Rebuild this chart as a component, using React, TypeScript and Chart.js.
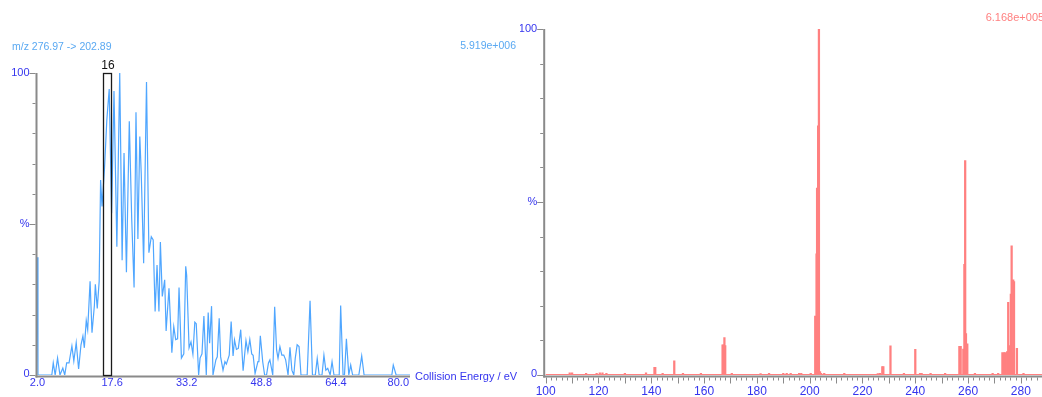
import React, { useEffect, useRef } from "react";
import { Chart, registerables } from "chart.js";

Chart.register(...registerables);

// ---------- Left panel: collision-energy profile ----------
const ceEnergies = [
  2.0, 2.2, 5.1, 5.4, 5.8, 6.3, 6.8, 7.4, 7.8, 8.2,
  8.7, 9.3, 9.7, 10.2, 10.7, 11.2, 11.6, 11.9, 12.3, 12.6,
  13.1, 13.5, 14.0, 14.2, 14.6, 15.0, 15.3, 15.6, 16.1, 16.6,
  17.1, 17.6, 18.1, 18.7, 19.3, 19.8, 20.2, 20.7, 21.3, 21.8,
  22.3, 22.7, 23.1, 23.5, 23.8, 24.3, 24.9, 25.4, 25.9, 26.3,
  26.7, 27.1, 27.5, 27.8, 28.2, 28.7, 29.0, 29.6, 30.2, 30.6,
  31.0, 31.4, 31.7, 32.2, 32.7, 33.1, 33.3, 33.8, 34.2, 34.6,
  35.0, 35.3, 35.8, 36.1, 36.5, 36.9, 37.4, 37.8, 38.1, 38.5,
  38.8, 39.4, 39.7, 40.1, 40.4, 40.9, 41.3, 41.6, 42.2, 42.6,
  43.0, 43.3, 43.7, 44.1, 44.6, 45.1, 45.7, 46.1, 46.5, 46.9,
  47.2, 47.6, 48.2, 48.4, 48.7, 49.2, 49.6, 50.0, 50.4, 50.7,
  51.3, 51.7, 52.1, 52.4, 52.8, 53.2, 53.6, 54.0, 54.5, 54.9,
  55.3, 55.7, 56.0, 56.4, 56.8, 57.2, 58.5, 59.1, 59.6, 60.2,
  60.6, 61.0, 61.6, 62.0, 62.4, 62.8, 63.3, 63.7, 64.1, 65.2,
  65.5, 66.0, 66.3, 66.7, 67.2, 67.6, 68.0, 69.3, 69.9, 70.4,
  76.2, 76.5, 77.1, 80.0,
];
const ceIntensity = [
  39, 0, 0, 4, 0, 5.6, 0, 2.3, 0, 4,
  4, 9.6, 4.6, 10.7, 2, 10, 12.9, 9, 18, 15,
  31, 14, 23, 30, 22, 31, 64.6, 55.8, 68, 84.4,
  94.7, 53.6, 94, 42.5, 100, 38, 73.5, 34, 84, 52,
  29, 87, 45, 79, 66.6, 37, 97, 40.5, 45.8, 44.7,
  21, 36.4, 21, 44, 26, 31.5, 14.6, 28.7, 7.4, 16,
  11.7, 12, 29, 5.6, 7, 36, 33, 9, 11, 6.9,
  17.5, 17, 0, 5.6, 7, 19.5, 0, 20.7, 10.5, 22.8,
  0, 5, 6, 18.8, 6, 1.6, 4.4, 3.6, 6.6, 17.7,
  6.3, 11.6, 8.5, 8.8, 15, 1.4, 11.4, 7.7, 11.8, 7,
  6.5, 0.5, 4.4, 4.4, 13, 4.4, 0, 0, 4, 5,
  0, 22.6, 8.3, 5.5, 9.4, 6.6, 6.6, 5, 0, 9.2,
  1.6, 0, 5.5, 10, 9.4, 0, 0, 24.6, 0, 0,
  5.5, 0, 0, 6.6, 1.6, 2.2, 0, 4.4, 0, 0,
  23, 0, 0, 12, 0, 3.3, 0, 0, 6.3, 0,
  0, 3.3, 0, 0,
];
const ceTickValues = [2.0, 17.6, 33.2, 48.8, 64.4, 80.0];
const ceTickLabels = ["2.0", "17.6", "33.2", "48.8", "64.4", "80.0"];
const ceAxisTitle = "Collision Energy / eV";
const ceHeader = "m/z 276.97 -> 202.89";
const ceMaxLabel = "5.919e+006";
const highlightRange = [15.9, 17.6];
const highlightLabel = "16";

// ---------- Right panel: product-ion spectrum ----------
const specMz = [
  109.1, 110.0, 115.3, 119.3, 120.5, 121.5, 123.0, 130.0, 138.0, 141.2,
  141.5, 144.3, 148.7, 152.0, 158.8, 167.0, 167.4, 167.7, 168.0, 170.5,
  181.4, 184.6, 190.0, 191.3, 192.8, 196.0, 196.8, 200.4, 202.1, 202.6,
  202.8, 203.2, 203.5, 203.9, 204.3, 205.5, 213.1, 225.8, 226.6, 227.5,
  227.9, 230.6, 235.7, 240.0, 241.8, 242.4, 245.8, 251.3, 256.7, 257.2,
  258.2, 258.6, 258.9, 259.2, 259.7, 262.6, 269.3, 271.4, 273.0, 273.6,
  274.1, 274.8, 275.2, 275.8, 276.2, 276.5, 276.9, 277.1, 277.4, 278.5,
  281.0,
];
const specIntensity = [
  0.6, 0.6, 0.5, 0.5, 0.6, 0.6, 0.5, 0.5, 0.6, 2.2,
  2.2, 0.5, 4.1, 0.5, 0.5, 8.7, 8.7, 10.8, 8.5, 0.5,
  0.4, 0.5, 0.5, 0.5, 0.5, 0.5, 0.5, 0.5, 17, 35,
  54, 72, 100, 1, 0.5, 0.5, 0.5, 0.4, 0.5, 2.4,
  2.4, 8.4, 0.5, 7.4, 0.5, 0.5, 0.5, 0.5, 8.3, 8.3,
  7.5, 32, 62, 12, 9, 0.5, 0.5, 0.5, 6.5, 6.5,
  6.5, 6.8, 21, 8.5, 23.4, 37.3, 6.4, 27.5, 27, 7.7,
  0.5,
];
const specTickValues = [100, 120, 140, 160, 180, 200, 220, 240, 260, 280];
const specMaxLabel = "6.168e+005";

const yMarks = [0, 10, 20, 30, 40, 50, 60, 70, 80, 90, 100];

const FONT = '"Liberation Sans", Arial, sans-serif';
const AXIS_GRAY = "#8a8a8a";
const LABEL_BLUE = "#3535ee";
const LINE_BLUE = "#4fa6ff";
const SPEC_RED = "#ff8080";

function drawYAxis(ctx: CanvasRenderingContext2D, chart: any, axisX: number) {
  const y = chart.scales.y;
  ctx.strokeStyle = AXIS_GRAY;
  ctx.lineWidth = 1;
  for (const v of yMarks) {
    const py = Math.round(y.getPixelForValue(v)) + 0.5;
    const len = v === 0 || v === 50 || v === 100 ? 6 : 3;
    ctx.beginPath();
    ctx.moveTo(axisX - 1, py);
    ctx.lineTo(axisX - 1 - len, py);
    ctx.stroke();
  }
  ctx.lineWidth = 2;
  ctx.beginPath();
  ctx.moveTo(axisX, y.getPixelForValue(100));
  ctx.lineTo(axisX, y.getPixelForValue(0) + 2.5);
  ctx.stroke();
  ctx.fillStyle = LABEL_BLUE;
  ctx.font = `11px ${FONT}`;
  ctx.textAlign = "right";
  ctx.textBaseline = "middle";
  ctx.fillText("100", axisX - 7, y.getPixelForValue(100));
  ctx.fillText("%", axisX - 7, y.getPixelForValue(50));
  ctx.fillText("0", axisX - 7, y.getPixelForValue(0) - 1);
}

const leftPlugin = {
  id: "leftDecor",
  afterDraw(chart: any) {
    const { ctx, chartArea: a, scales } = chart;
    const x = scales.x;
    const y = scales.y;
    ctx.save();
    const axisX = a.left - 0.5;
    const baseY = y.getPixelForValue(0) + 1.5;
    ctx.strokeStyle = AXIS_GRAY;
    ctx.lineWidth = 2;
    ctx.beginPath();
    ctx.moveTo(axisX - 1, baseY);
    ctx.lineTo(x.getPixelForValue(80), baseY);
    ctx.stroke();
    drawYAxis(ctx, chart, axisX);
    ctx.fillStyle = LABEL_BLUE;
    ctx.font = `11px ${FONT}`;
    ctx.textBaseline = "top";
    ceTickValues.forEach((v, i) => {
      const last = i === ceTickValues.length - 1;
      ctx.textAlign = last ? "right" : "center";
      ctx.fillText(ceTickLabels[i], x.getPixelForValue(v) + (last ? -1 : 0.5), 377);
    });
    ctx.font = `11px ${FONT}`;
    ctx.textAlign = "left";
    ctx.textBaseline = "middle";
    ctx.fillText(ceAxisTitle, x.getPixelForValue(80) + 5, 376.5);
    const bx0 = x.getPixelForValue(highlightRange[0]);
    const bx1 = x.getPixelForValue(highlightRange[1]);
    const by0 = y.getPixelForValue(100);
    const by1 = y.getPixelForValue(0);
    ctx.strokeStyle = "#1a1a1a";
    ctx.lineWidth = 1.3;
    ctx.strokeRect(Math.round(bx0) + 0.5, Math.round(by0) + 0.5, Math.round(bx1 - bx0), Math.round(by1 - by0));
    ctx.fillStyle = "#111";
    ctx.font = `12px ${FONT}`;
    ctx.textAlign = "center";
    ctx.textBaseline = "bottom";
    ctx.fillText(highlightLabel, (bx0 + bx1) / 2 + 0.5, by0 - 1);
    ctx.fillStyle = "#5aa9f2";
    ctx.font = `10.5px ${FONT}`;
    ctx.textAlign = "left";
    ctx.textBaseline = "middle";
    ctx.fillText(ceHeader, 12, 47);
    ctx.textAlign = "right";
    ctx.fillText(ceMaxLabel, 516, 46);
    ctx.restore();
  },
};

const rightPlugin = {
  id: "rightDecor",
  beforeDatasetsDraw(chart: any) {
    const { ctx, chartArea: a, scales } = chart;
    const y = scales.y;
    ctx.save();
    ctx.strokeStyle = SPEC_RED;
    ctx.lineWidth = 1;
    ctx.beginPath();
    ctx.moveTo(a.left, Math.round(y.getPixelForValue(0)) - 0.5);
    ctx.lineTo(a.right, Math.round(y.getPixelForValue(0)) - 0.5);
    ctx.stroke();
    ctx.restore();
  },
  afterDraw(chart: any) {
    const { ctx, chartArea: a, scales } = chart;
    const x = scales.x;
    const y = scales.y;
    ctx.save();
    const axisX = a.left - 1.5;
    const baseY = y.getPixelForValue(0) + 1.5;
    ctx.strokeStyle = AXIS_GRAY;
    ctx.lineWidth = 2;
    ctx.beginPath();
    ctx.moveTo(axisX - 1, baseY);
    ctx.lineTo(a.right, baseY);
    ctx.stroke();
    ctx.lineWidth = 1;
    for (let m = x.min; m <= x.max; m += 2) {
      const px = Math.round(x.getPixelForValue(m)) + 0.5;
      const len = m % 10 === 0 ? 6 : 3;
      ctx.beginPath();
      ctx.moveTo(px, baseY + 1);
      ctx.lineTo(px, baseY + 1 + len);
      ctx.stroke();
    }
    drawYAxis(ctx, chart, axisX);
    ctx.fillStyle = LABEL_BLUE;
    ctx.font = `12px ${FONT}`;
    ctx.textAlign = "center";
    ctx.textBaseline = "middle";
    specTickValues.forEach((v) => {
      ctx.fillText(String(v), x.getPixelForValue(v), 391.5);
    });
    ctx.fillStyle = SPEC_RED;
    ctx.font = `11px ${FONT}`;
    ctx.textAlign = "left";
    ctx.fillText(specMaxLabel, 465.7, 17.5);
    ctx.restore();
  },
};

export default function App() {
  const leftRef = useRef<HTMLCanvasElement | null>(null);
  const rightRef = useRef<HTMLCanvasElement | null>(null);

  useEffect(() => {
    const prevMargin = document.body.style.margin;
    document.body.style.margin = "0";
    const left = new Chart(leftRef.current as HTMLCanvasElement, {
      type: "line",
      data: {
        datasets: [
          {
            data: ceEnergies.map((e, i) => ({ x: e, y: ceIntensity[i] })),
            borderColor: LINE_BLUE,
            borderWidth: 1.2,
            pointRadius: 0,
            tension: 0,
            fill: false,
          },
        ],
      },
      options: {
        responsive: false,
        animation: false,
        devicePixelRatio: 1,
        layout: { padding: { left: 37, right: 130, top: 73, bottom: 22 } },
        plugins: { legend: { display: false }, tooltip: { enabled: false } },
        scales: {
          x: { type: "linear", min: 2, max: 80, display: false },
          y: { type: "linear", min: 0, max: 100, display: false },
        },
      },
      plugins: [leftPlugin],
    } as any);

    const right = new Chart(rightRef.current as HTMLCanvasElement, {
      type: "bar",
      data: {
        datasets: [
          {
            data: specMz.map((m, i) => ({ x: m, y: specIntensity[i] })),
            backgroundColor: SPEC_RED,
            borderWidth: 0,
            barThickness: 1.6,
          },
        ],
      },
      options: {
        responsive: false,
        animation: false,
        devicePixelRatio: 1,
        layout: { padding: { left: 25.7, right: 0, top: 29, bottom: 22 } },
        plugins: { legend: { display: false }, tooltip: { enabled: false } },
        scales: {
          x: { type: "linear", min: 100, max: 288, offset: false, display: false },
          y: { type: "linear", min: 0, max: 100, display: false },
        },
      },
      plugins: [rightPlugin],
    } as any);

    return () => {
      left.destroy();
      right.destroy();
      document.body.style.margin = prevMargin;
    };
  }, []);

  return (
    <div style={{ position: "absolute", left: 0, top: 0, width: 1042, height: 397, background: "#fff" }}>
      <canvas ref={leftRef} width={540} height={397} style={{ position: "absolute", left: 0, top: 0 }} />
      <canvas ref={rightRef} width={522} height={397} style={{ position: "absolute", left: 520, top: 0 }} />
    </div>
  );
}
